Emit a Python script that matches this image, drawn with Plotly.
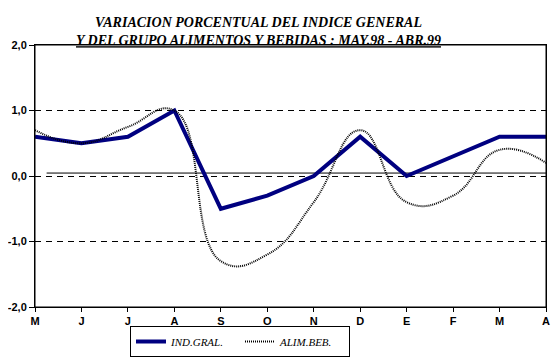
import plotly.graph_objects as go

months = ["M", "J", "J", "A", "S", "O", "N", "D", "E", "F", "M", "A"]
ind_gral = [0.6, 0.5, 0.6, 1.0, -0.5, -0.3, 0.0, 0.6, 0.0, 0.3, 0.6, 0.6]
alim_beb = [0.7, 0.5, 0.75, 1.0, -1.3, -1.2, -0.4, 0.7, -0.4, -0.3, 0.4, 0.2]
ref_x = [0.25, 11]
ref_y = [0.045, 0.045]
y_ticks = [-2, -1, 0, 1, 2]
y_labels = ["-2,0", "-1,0", "0,0", "1,0", "2,0"]
title_lines = ["VARIACION PORCENTUAL DEL INDICE GENERAL",
               "Y DEL GRUPO ALIMENTOS Y BEBIDAS : MAY.98 - ABR.99"]

xs = list(range(len(months)))

# page body has an 8px margin: figure is 552x350 placed at (8,8)
W, H = 552, 350
ML, MT, MR, MB = 27, 37, 14, 51


def cx(x):  # window pixel -> container x
    return (x - 8) / W


def cy(y):  # window pixel -> container y
    return 1 - (y - 8) / H


fig = go.Figure()
fig.add_trace(go.Scatter(x=ref_x, y=ref_y, mode="lines",
                         line=dict(color="black", width=1),
                         showlegend=False, hoverinfo="skip"))
fig.add_trace(go.Scatter(x=xs, y=ind_gral, mode="lines", name="<i>IND.GRAL.</i>",
                         line=dict(color="#000080", width=4)))
fig.add_trace(go.Scatter(x=xs, y=alim_beb, mode="lines", name="<i>ALIM.BEB.</i>",
                         line=dict(color="black", width=2, dash="1px,1px",
                                   shape="spline", smoothing=1.3)))

serif = "Liberation Serif"
fig.add_annotation(text="<b><i>" + title_lines[0] + "</i></b><br><b><i><u>" + title_lines[1] + "</u></i></b>",
                   xref="paper", yref="paper",
                   x=(258 - 8 - ML) / (W - ML - MR), y=1 + (45 - 31) / (H - MT - MB),
                   xanchor="center", yanchor="middle",
                   showarrow=False, align="center",
                   font=dict(family=serif, size=14, color="black"))

# plot frame
fig.add_shape(type="rect", xref="paper", yref="paper", x0=0, y0=0, x1=1, y1=1,
              line=dict(color="black", width=1), layer="above")

fig.update_layout(
    width=W, height=H,
    margin=dict(l=ML, r=MR, t=MT, b=MB, autoexpand=False),
    paper_bgcolor="white", plot_bgcolor="white",
    showlegend=True,
    legend=dict(orientation="h", xref="container", yref="container",
                x=cx(240), xanchor="center", y=cy(326), yanchor="top",
                bordercolor="black", borderwidth=1, bgcolor="white",
                font=dict(family=serif, size=11, color="black"),
                tracegroupgap=0, entrywidth=64, entrywidthmode="pixels"),
    xaxis=dict(range=[0, 11], tickmode="array", tickvals=xs, ticktext=months,
               ticks="outside", ticklen=4, tickcolor="black", automargin=False,
               showline=True, linecolor="black", linewidth=1, mirror=True,
               showgrid=False, zeroline=False,
               tickfont=dict(family="Liberation Sans", size=11, color="black", weight="bold")),
    yaxis=dict(range=[-2, 2], tickmode="array", tickvals=y_ticks, ticktext=y_labels,
               ticks="outside", ticklen=5, tickcolor="black", automargin=False,
               showline=True, linecolor="black", linewidth=1, mirror=True,
               showgrid=True, gridcolor="black", gridwidth=1, griddash="6px,5px",
               zeroline=False,
               tickfont=dict(family="Liberation Sans", size=11, color="black", weight="bold")),
)

fig.write_html("out.html")
